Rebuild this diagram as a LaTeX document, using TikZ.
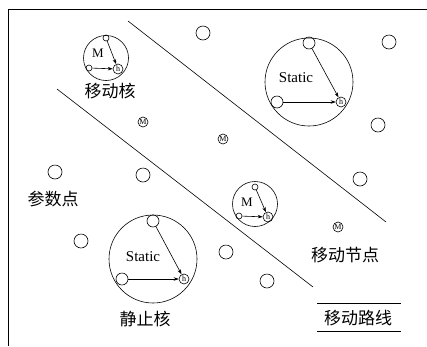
\documentclass[tikz,border=0pt]{standalone}
\usepackage{fontspec}
\setmainfont{Liberation Serif}
\newfontfamily\cjk{Noto Sans CJK SC}
\usetikzlibrary{arrows.meta}
\begin{document}
\begin{tikzpicture}[x=1pt,y=-1pt,line width=0.6pt,
  param/.style={circle,draw,inner sep=0pt,minimum size=14pt},
  mnode/.style={circle,draw,inner sep=0pt,minimum size=10pt,font=\fontsize{8}{8}\selectfont},
  bigcore/.style={circle,draw,inner sep=0pt,minimum size=88pt},
  smallcore/.style={circle,draw,inner sep=0pt,minimum size=45pt},
  sdot/.style={circle,draw,inner sep=0pt,minimum size=12pt},
  tdot/.style={circle,draw,inner sep=0pt,minimum size=6pt},
  hdot/.style={circle,draw,inner sep=0pt,minimum size=10pt,font=\fontsize{8}{8}\selectfont},
  lbl/.style={font=\cjk\fontsize{17}{17}\selectfont,inner sep=0pt},
  arr/.style={-{Stealth[length=5pt,width=3.5pt]}}]
\useasboundingbox (0,0) rectangle (427,346);
\draw (8,346) -- (8,9.5) -- (427,9.5);
% paths
\coordinate (p1a) at (128,21); \coordinate (p1b) at (386,222);
\coordinate (p2a) at (57,89); \coordinate (p2b) at (313,287);
\draw (p1a) -- (p1b);
\draw (p2a) -- (p2b);
% parameter points
\node[param] (q1) at (203,33) {};
\node[param] (q2) at (389,42) {};
\node[param] (q3) at (378,125) {};
\node[param] (q4) at (360,179) {};
\node[param] (q5) at (55,172) {};
\node[param] (q6) at (143,175) {};
\node[param] (q7) at (81,241) {};
\node[param] (q8) at (226,252) {};
\node[param] (q9) at (267,281) {};
% moving nodes
\node[mnode] (m1) at (143,122) {M};
\node[mnode] (m2) at (223,139) {M};
\node[mnode] (m3) at (338,227) {M};
% moving core top-left
\node[smallcore] (c1) at (106,58) {};
\node[font=\fontsize{13}{13}\selectfont] (c1m) at (98,53) {M};
\node[tdot] (c1t) at (106,38) {};
\node[tdot] (c1l) at (89,68) {};
\node[hdot] (c1h) at (118,69) {h};
\draw[arr] (c1t) -- (c1h);
\draw[arr] (c1l) -- (c1h);
% moving core middle
\node[smallcore] (c2) at (255,204) {};
\node[font=\fontsize{13}{13}\selectfont] (c2m) at (247,202) {M};
\node[tdot] (c2t) at (255,187) {};
\node[tdot] (c2l) at (239,216) {};
\node[hdot] (c2h) at (268,217) {h};
\draw[arr] (c2t) -- (c2h);
\draw[arr] (c2l) -- (c2h);
% static core top-right
\node[bigcore] (s1) at (309,82) {};
\node[font=\fontsize{15}{15}\selectfont] (s1s) at (296,78) {Static};
\node[sdot] (s1t) at (309,43) {};
\node[sdot] (s1l) at (277,102) {};
\node[hdot] (s1h) at (341,102) {h};
\draw[arr] (s1t) -- (s1h);
\draw[arr] (s1l) -- (s1h);
% static core bottom-left
\node[bigcore] (s2) at (153,259) {};
\node[font=\fontsize{15}{15}\selectfont] (s2s) at (143,257) {Static};
\node[sdot] (s2t) at (153,221) {};
\node[sdot] (s2l) at (122,279) {};
\node[hdot] (s2h) at (184,279) {h};
\draw[arr] (s2t) -- (s2h);
\draw[arr] (s2l) -- (s2h);
% labels
\node[lbl] (l1) at (110,91) {移动核};
\node[lbl] (l2) at (53,199) {参数点};
\node[lbl] (l3) at (345,255) {移动节点};
\node[lbl] (l4) at (145,319) {静止核};
\node[lbl] (l5) at (358,318) {移动路线};
\coordinate (r1a) at (317,303); \coordinate (r1b) at (401,303);
\coordinate (r2a) at (317,331); \coordinate (r2b) at (401,331);
\draw (r1a) -- (r1b);
\draw (r2a) -- (r2b);
\end{tikzpicture}
\end{document}
